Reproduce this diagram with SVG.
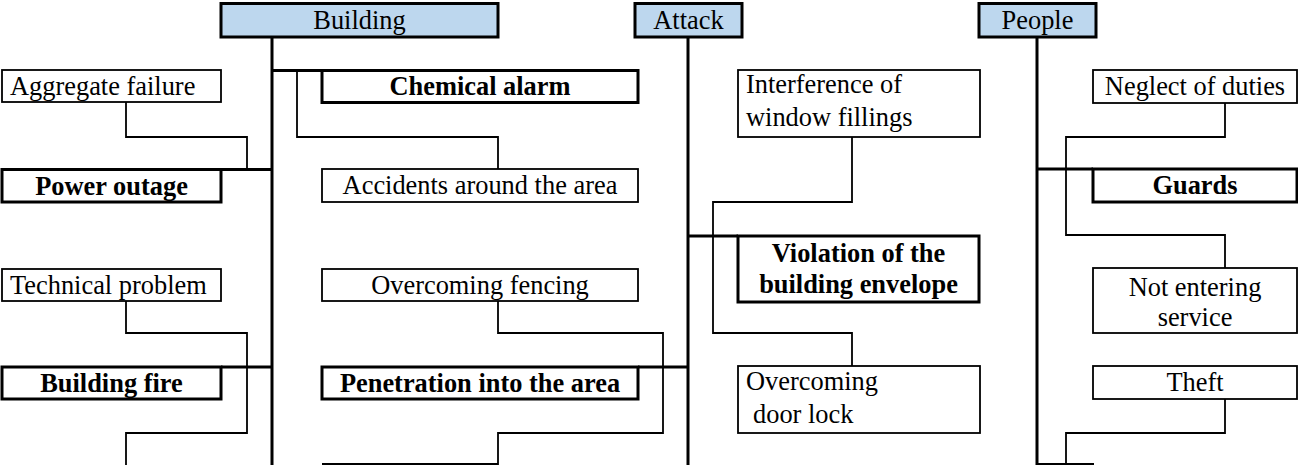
<svg xmlns="http://www.w3.org/2000/svg" width="1298" height="465" viewBox="0 0 1298 465">
<style>
text{font-family:"Liberation Serif","Times New Roman",serif;font-size:26.4px;fill:#000}
.b{font-weight:bold}
.m{text-anchor:middle}
.thin{fill:#fff;stroke:#000;stroke-width:1.8}
.thick{fill:#fff;stroke:#000;stroke-width:3}
.hdr{fill:#BDD7EE;stroke:#000;stroke-width:3}
.tr{fill:none;stroke:#000;stroke-width:3}
.cn{fill:none;stroke:#000;stroke-width:1.8}
</style>
<rect width="1298" height="465" fill="#fff"/>
<g id="connectors">
<path class="tr" d="M272,37V465M688,37V465M1037,37V465"/>
<path class="tr" d="M272,70.5H322M221,169.5H272M221,367H272M638,367H688M688,236H738M1037,169H1093"/>
<path class="cn" d="M126,102V137H247V169.5"/>
<path class="cn" d="M297,70.5V137H498V169"/>
<path class="cn" d="M126,301V333H247V433H126V465"/>
<path class="cn" d="M498,301V333H663V433H498V465"/>
<path class="cn" d="M322,464H498"/>
<path class="cn" d="M852,137V202H713V333H852V366"/>
<path class="cn" d="M1225,103V137H1066V235H1225V268"/>
<path class="cn" d="M1225,399V433H1066V465"/>
<path class="cn" d="M1037,464H1094"/>
</g>
<g id="building"><rect class="hdr" x="221" y="3.5" width="277" height="33.5"/><text class="m" x="359.5" y="29">Building</text></g>
<g id="attack"><rect class="hdr" x="635" y="3.5" width="107" height="33.5"/><text class="m" x="688.5" y="29">Attack</text></g>
<g id="people"><rect class="hdr" x="979" y="3.5" width="117" height="33.5"/><text class="m" x="1037.5" y="29">People</text></g>
<g id="aggregate-failure"><rect class="thin" x="2" y="70" width="219" height="32"/><text x="10" y="95">Aggregate failure</text></g>
<g id="power-outage"><rect class="thick" x="2" y="169.5" width="219" height="32.5"/><text class="b m" x="111.5" y="194.5">Power outage</text></g>
<g id="technical-problem"><rect class="thin" x="2" y="269" width="219" height="32"/><text x="10" y="294">Technical problem</text></g>
<g id="building-fire"><rect class="thick" x="2" y="367" width="219" height="32"/><text class="b m" x="111.5" y="391.5">Building fire</text></g>
<g id="chemical-alarm"><rect class="thick" x="322" y="70.5" width="316" height="32"/><text class="b m" x="480" y="95">Chemical alarm</text></g>
<g id="accidents"><rect class="thin" x="322" y="169" width="316" height="33"/><text class="m" x="480" y="194">Accidents around the area</text></g>
<g id="overcoming-fencing"><rect class="thin" x="322" y="269" width="316" height="32"/><text class="m" x="480" y="294">Overcoming fencing</text></g>
<g id="penetration"><rect class="thick" x="322" y="367" width="316" height="32"/><text class="b m" x="480" y="391.5">Penetration into the area</text></g>
<g id="interference"><rect class="thin" x="738" y="70" width="242" height="67"/><text x="746" y="93">Interference of</text><text x="746" y="126">window fillings</text></g>
<g id="violation"><rect class="thick" x="738" y="236" width="241" height="66"/><text class="b m" x="858.5" y="262">Violation of the</text><text class="b m" x="858.5" y="293">building envelope</text></g>
<g id="door-lock"><rect class="thin" x="738" y="366" width="242" height="67"/><text x="746" y="390">Overcoming</text><text x="753" y="423">door lock</text></g>
<g id="neglect"><rect class="thin" x="1093" y="70" width="204" height="33"/><text class="m" x="1195" y="95">Neglect of duties</text></g>
<g id="guards"><rect class="thick" x="1093" y="169" width="204" height="33"/><text class="b m" x="1195" y="194">Guards</text></g>
<g id="not-entering"><rect class="thin" x="1093" y="268" width="204" height="65"/><text class="m" x="1195" y="296">Not entering</text><text class="m" x="1195" y="326">service</text></g>
<g id="theft"><rect class="thin" x="1093" y="366" width="204" height="33"/><text class="m" x="1195" y="391">Theft</text></g>
</svg>
